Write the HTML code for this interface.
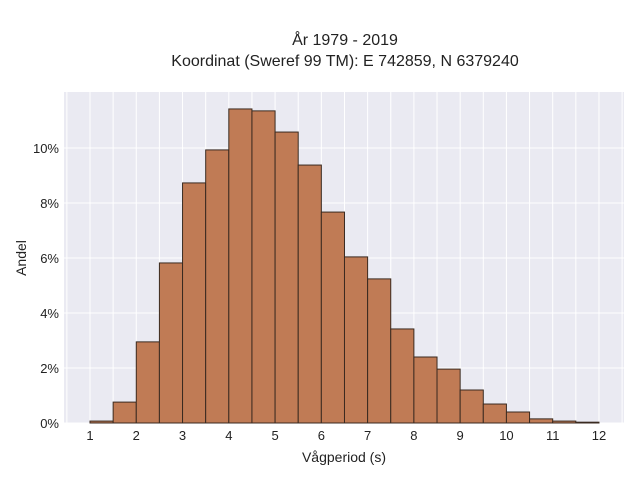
<!DOCTYPE html>
<html><head><meta charset="utf-8"><style>
body{margin:0;background:#fff;font-family:"Liberation Sans",sans-serif;}
svg text{font-family:"Liberation Sans",sans-serif;fill:#222;}
</style></head><body>
<svg width="640" height="480">
<text x="345" y="45" text-anchor="middle" font-size="16">År 1979 - 2019</text>
<text x="345" y="66" text-anchor="middle" font-size="16">Koordinat (Sweref 99 TM): E 742859, N 6379240</text>
<rect x="64" y="92" width="560" height="331" fill="#eaeaf2"/>
<g id="grid"></g><g id="bars"></g><g id="axes"></g>
<text x="344" y="462" text-anchor="middle" font-size="14">Vågperiod (s)</text>
<text transform="translate(26,258) rotate(-90)" text-anchor="middle" font-size="14">Andel</text>
</svg>
<script>
const binStarts=[1,1.5,2,2.5,3,3.5,4,4.5,5,5.5,6,6.5,7,7.5,8,8.5,9,9.5,10,10.5,11,11.5];
const shares=[0.07,0.76,2.95,5.82,8.73,9.93,11.42,11.35,10.58,9.38,7.67,6.04,5.24,3.42,2.4,1.96,1.2,0.69,0.4,0.15,0.07,0.03];
const xTicks=[1,2,3,4,5,6,7,8,9,10,11,12];
const yTicks=[0,2,4,6,8,10];
const binWidth=0.5;
const NS="http://www.w3.org/2000/svg";
const X=v=>90+(v-1)*46.27;
const Y=v=>423-v*27.5;
function mk(t,a,p){const e=document.createElementNS(NS,t);for(const k in a)e.setAttribute(k,a[k]);p.appendChild(e);return e;}
const grid=document.getElementById('grid'),bars=document.getElementById('bars'),axes=document.getElementById('axes');
for(let v=0.5;v<=12.5;v+=0.5){const l=mk('line',{x1:X(v),x2:X(v),y1:92,y2:423,stroke:'#fff','stroke-width':1},grid);

}
yTicks.forEach(v=>{const l=mk('line',{x1:64,x2:624,y1:Y(v),y2:Y(v),stroke:'#fff','stroke-width':1},grid);


const t=mk('text',{x:59,y:Y(v)+5,'text-anchor':'end','font-size':13},axes);t.textContent=v+'%';

});
xTicks.forEach(v=>{const t=mk('text',{x:X(v),y:440,'text-anchor':'middle','font-size':13},axes);t.textContent=v;

});
binStarts.forEach((b,i)=>{const r=mk('rect',{x:X(b),y:Y(shares[i]),width:X(b+binWidth)-X(b),height:Y(0)-Y(shares[i]),fill:'#c07b55',stroke:'#3a2a20','stroke-width':1},bars);

});
</script>
</body></html>
